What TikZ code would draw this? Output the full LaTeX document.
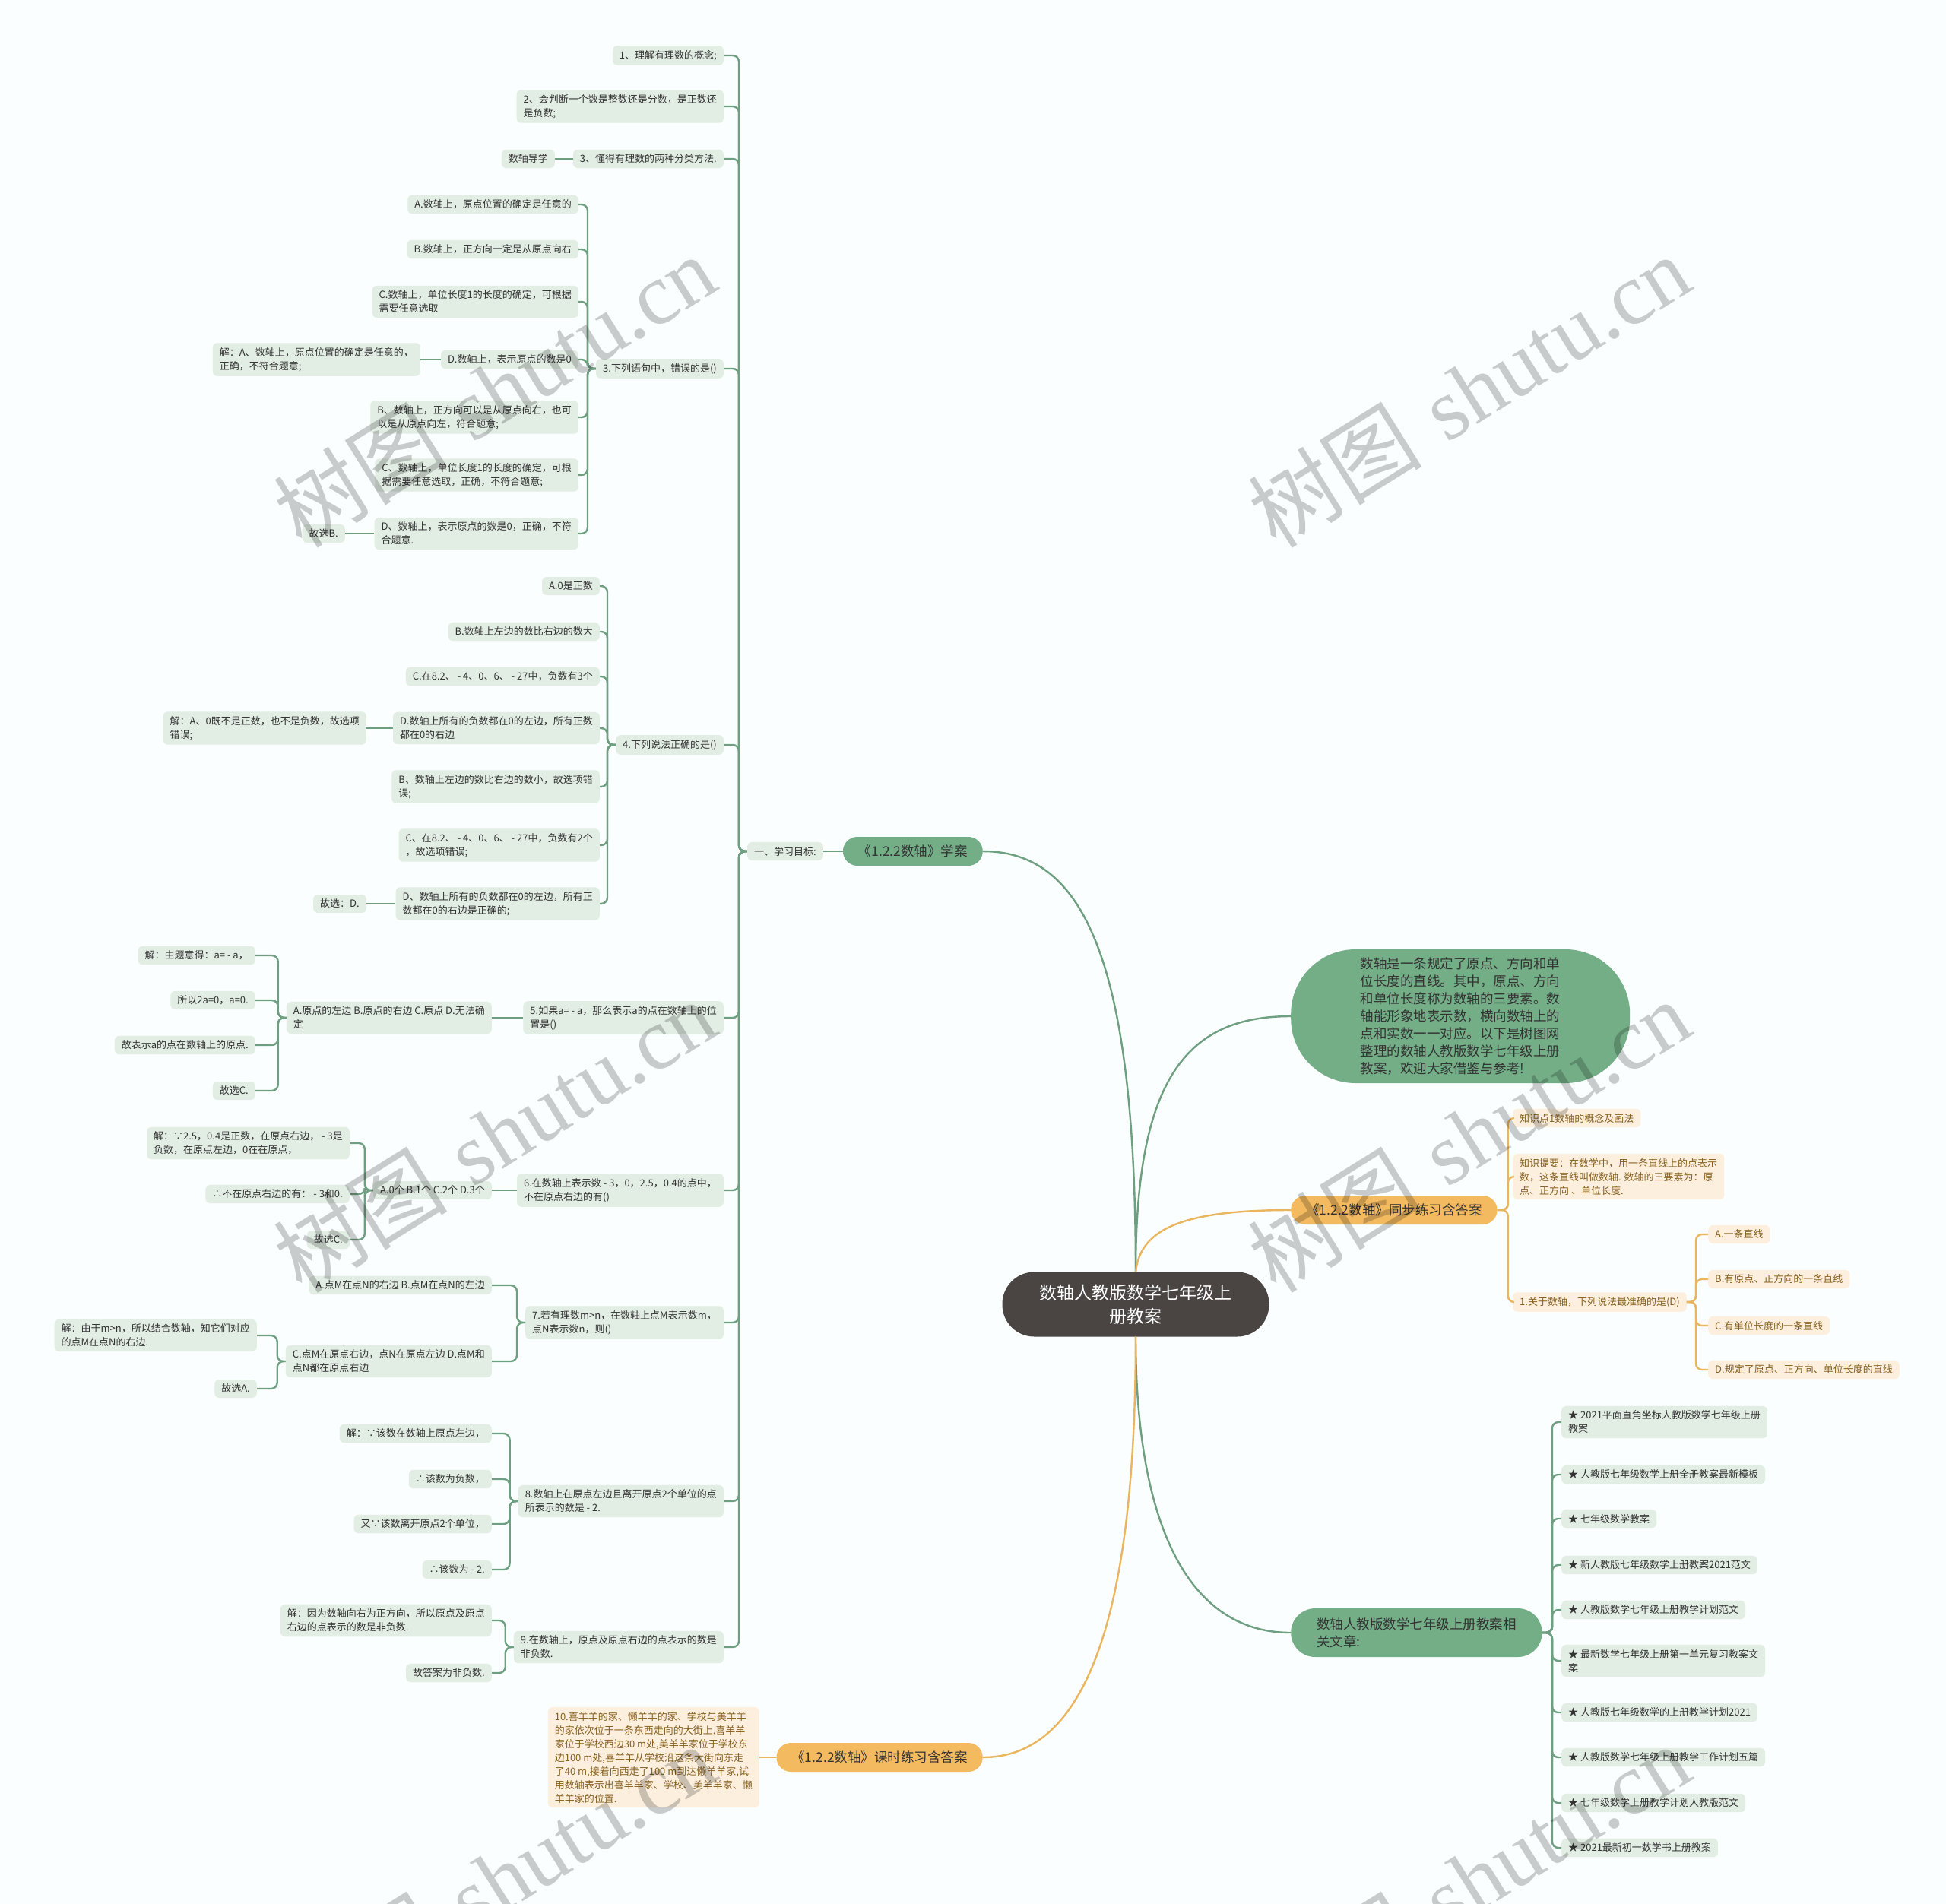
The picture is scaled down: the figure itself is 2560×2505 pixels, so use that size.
\documentclass[tikz,border=0pt]{standalone}
\usepackage{fontspec}
\setmainfont{Noto Sans CJK SC}
\newfontfamily\wmserif{Liberation Serif}
\usepackage{tikz}
\usetikzlibrary{positioning,backgrounds}
\definecolor{cBg}{HTML}{FAFEFE}
\definecolor{cText}{HTML}{333333}
\definecolor{cLine}{HTML}{6E9F80}
\definecolor{cPill}{HTML}{73AE87}
\definecolor{cLeaf}{HTML}{E2EDE4}
\definecolor{cRoot}{HTML}{4A4543}
\definecolor{cOr}{HTML}{F3BA60}
\definecolor{cOrLine}{HTML}{E9B55E}
\definecolor{cOrLeaf}{HTML}{FCEFDE}
\definecolor{cOrText}{HTML}{86601F}
\tikzset{
  leaf/.style={fill=cLeaf, rounded corners=6pt, inner xsep=9pt, inner ysep=6pt,
               align=left, text=cText, font=\fontsize{13}{18}\selectfont},
  oleaf/.style={leaf, fill=cOrLeaf, text=cOrText},
  pill/.style={fill=cPill, rounded corners=19pt, minimum height=38pt, inner xsep=20pt,
               inner ysep=8pt, text=cText, font=\fontsize{17.5}{23}\selectfont, align=left},
  opill/.style={pill, fill=cOr, text=black!80},
  rootblk/.style={fill=cRoot, rounded corners=42pt, minimum width=351pt, minimum height=85pt,
                  text=white, align=center, font=\fontsize{23}{31}\selectfont},
  link/.style={draw=cLine, line width=2.4pt, rounded corners=8pt},
  olink/.style={link, draw=cOrLine},
  wmark/.style={text=black, opacity=0.2, rotate=32, font=\fontsize{115}{115}\selectfont}
}

\begin{document}
\begin{tikzpicture}[x=1pt, y=-1pt]
\useasboundingbox (0,0) rectangle (2560,2505);
\clip (0,0) rectangle (2560,2505);
\fill[cBg] (0,0) rectangle (2560,2505);
% centre
\node[rootblk] (root) at (1494,1716) {数轴人教版数学七年级上\\册教案};
% left: study plan
\node[pill, anchor=east] (plan) at (1293,1120) {《1.2.2数轴》学案};
\node[leaf, anchor=east] (goal) at (1083,1120) {一、学习目标:};
\node[leaf, anchor=east] (t1) at (952,73) {1、理解有理数的概念;};
\node[leaf, anchor=east] (t2) at (952,140) {2、会判断一个数是整数还是分数，是正数还\\是负数;};
\node[leaf, anchor=east] (t3) at (952,209) {3、懂得有理数的两种分类方法.};
\node[leaf, anchor=east] (guide) at (730,209) {数轴导学};
% question 3
\node[leaf, anchor=east] (q3) at (952,485) {3.下列语句中，错误的是()};
\node[leaf, anchor=east] (q3a) at (761,269) {A.数轴上，原点位置的确定是任意的};
\node[leaf, anchor=east] (q3b) at (761,328) {B.数轴上，正方向一定是从原点向右};
\node[leaf, anchor=east] (q3c) at (761,397) {C.数轴上，单位长度1的长度的确定，可根据\\需要任意选取};
\node[leaf, anchor=east] (q3d) at (761,473) {D.数轴上，表示原点的数是0};
\node[leaf, anchor=east] (q3dx) at (553,473) {解：A、数轴上，原点位置的确定是任意的，\\正确，不符合题意;};
\node[leaf, anchor=east] (q3e) at (761,549) {B、数轴上，正方向可以是从原点向右，也可\\以是从原点向左，符合题意;};
\node[leaf, anchor=east] (q3f) at (761,625) {C、数轴上，单位长度1的长度的确定，可根\\据需要任意选取，正确，不符合题意;};
\node[leaf, anchor=east] (q3g) at (761,702) {D、数轴上，表示原点的数是0，正确，不符\\合题意.};
\node[leaf, anchor=east] (q3gx) at (454,702) {故选B.};
% question 4
\node[leaf, anchor=east] (q4) at (952,980) {4.下列说法正确的是()};
\node[leaf, anchor=east] (q4a) at (789,771) {A.0是正数};
\node[leaf, anchor=east] (q4b) at (789,831) {B.数轴上左边的数比右边的数大};
\node[leaf, anchor=east] (q4c) at (789,890) {C.在8.2、 - 4、0、6、 - 27中，负数有3个};
\node[leaf, anchor=east] (q4d) at (789,958) {D.数轴上所有的负数都在0的左边，所有正数\\都在0的右边};
\node[leaf, anchor=east] (q4dx) at (482,958) {解：A、0既不是正数，也不是负数，故选项\\错误;};
\node[leaf, anchor=east] (q4e) at (789,1035) {B、数轴上左边的数比右边的数小，故选项错\\误;};
\node[leaf, anchor=east] (q4f) at (789,1112) {C、在8.2、 - 4、0、6、 - 27中，负数有2个\\，故选项错误;};
\node[leaf, anchor=east] (q4g) at (789,1189) {D、数轴上所有的负数都在0的左边，所有正\\数都在0的右边是正确的;};
\node[leaf, anchor=east] (q4gx) at (482,1189) {故选：D.};
% question 5
\node[leaf, anchor=east] (q5) at (952,1339) {5.如果a= - a，那么表示a的点在数轴上的位\\置是()};
\node[leaf, anchor=east] (q5o) at (647,1339) {A.原点的左边 B.原点的右边 C.原点 D.无法确\\定};
\node[leaf, anchor=east] (q5a) at (336,1257) {解：由题意得：a= - a，};
\node[leaf, anchor=east] (q5b) at (336,1316) {所以2a=0，a=0.};
\node[leaf, anchor=east] (q5c) at (336,1375) {故表示a的点在数轴上的原点.};
\node[leaf, anchor=east] (q5d) at (336,1435) {故选C.};
% question 6
\node[leaf, anchor=east] (q6) at (952,1566) {6.在数轴上表示数 - 3，0，2.5，0.4的点中，\\不在原点右边的有()};
\node[leaf, anchor=east] (q6o) at (647,1566) {A.0个 B.1个 C.2个 D.3个};
\node[leaf, anchor=east] (q6a) at (460,1504) {解：∵2.5，0.4是正数，在原点右边， - 3是\\负数，在原点左边，0在在原点，};
\node[leaf, anchor=east] (q6b) at (460,1571) {∴不在原点右边的有： - 3和0.};
\node[leaf, anchor=east] (q6c) at (460,1631) {故选C.};
% question 7
\node[leaf, anchor=east] (q7) at (952,1740) {7.若有理数m>n，在数轴上点M表示数m，\\点N表示数n，则()};
\node[leaf, anchor=east] (q7a) at (647,1691) {A.点M在点N的右边 B.点M在点N的左边};
\node[leaf, anchor=east] (q7b) at (647,1791) {C.点M在原点右边，点N在原点左边 D.点M和\\点N都在原点右边};
\node[leaf, anchor=east] (q7x) at (338,1757) {解：由于m>n，所以结合数轴，知它们对应\\的点M在点N的右边.};
\node[leaf, anchor=east] (q7y) at (338,1827) {故选A.};
% question 8
\node[leaf, anchor=east] (q8) at (952,1975) {8.数轴上在原点左边且离开原点2个单位的点\\所表示的数是 - 2.};
\node[leaf, anchor=east] (q8a) at (647,1886) {解：∵该数在数轴上原点左边，};
\node[leaf, anchor=east] (q8b) at (647,1946) {∴该数为负数，};
\node[leaf, anchor=east] (q8c) at (647,2005) {又∵该数离开原点2个单位，};
\node[leaf, anchor=east] (q8d) at (647,2065) {∴该数为 - 2.};
% question 9
\node[leaf, anchor=east] (q9) at (952,2167) {9.在数轴上，原点及原点右边的点表示的数是\\非负数.};
\node[leaf, anchor=east] (q9a) at (647,2132) {解：因为数轴向右为正方向，所以原点及原点\\右边的点表示的数是非负数.};
\node[leaf, anchor=east] (q9b) at (647,2201) {故答案为非负数.};
% right: intro, practice, related
\node[pill, anchor=west, minimum width=446pt, minimum height=176pt, rounded corners=85pt] (desc) at (1698,1337) {数轴是一条规定了原点、方向和单\\位长度的直线。其中，原点、方向\\和单位长度称为数轴的三要素。数\\轴能形象地表示数，横向数轴上的\\点和实数一一对应。以下是树图网\\整理的数轴人教版数学七年级上册\\教案，欢迎大家借鉴与参考!};
\node[opill, anchor=west] (sync) at (1698,1592) {《1.2.2数轴》同步练习含答案};
\node[oleaf, anchor=west] (k1) at (1990,1471) {知识点1数轴的概念及画法};
\node[oleaf, anchor=west] (k2) at (1990,1548) {知识提要：在数学中，用一条直线上的点表示\\数，这条直线叫做数轴. 数轴的三要素为：原\\点、正方向 、单位长度.};
\node[oleaf, anchor=west] (k3) at (1990,1713) {1.关于数轴，下列说法最准确的是(D)};
\node[oleaf, anchor=west] (k3a) at (2247,1624) {A.一条直线};
\node[oleaf, anchor=west] (k3b) at (2247,1683) {B.有原点、正方向的一条直线};
\node[oleaf, anchor=west] (k3c) at (2247,1744) {C.有单位长度的一条直线};
\node[oleaf, anchor=west] (k3d) at (2247,1802) {D.规定了原点、正方向、单位长度的直线};
\node[pill, anchor=west, minimum height=64pt, rounded corners=32pt, inner xsep=34pt] (rel) at (1698,2148) {数轴人教版数学七年级上册教案相\\关文章:};
\node[leaf, anchor=west] (r1) at (2054,1871) {★ 2021平面直角坐标人教版数学七年级上册\\教案};
\node[leaf, anchor=west] (r2) at (2054,1940) {★ 人教版七年级数学上册全册教案最新模板};
\node[leaf, anchor=west] (r3) at (2054,1998) {★ 七年级数学教案};
\node[leaf, anchor=west] (r4) at (2054,2059) {★ 新人教版七年级数学上册教案2021范文};
\node[leaf, anchor=west] (r5) at (2054,2118) {★ 人教版数学七年级上册教学计划范文};
\node[leaf, anchor=west] (r6) at (2054,2185) {★ 最新数学七年级上册第一单元复习教案文\\案};
\node[leaf, anchor=west] (r7) at (2054,2253) {★ 人教版七年级数学的上册教学计划2021};
\node[leaf, anchor=west] (r8) at (2054,2312) {★ 人教版数学七年级上册教学工作计划五篇};
\node[leaf, anchor=west] (r9) at (2054,2372) {★ 七年级数学上册教学计划人教版范文};
\node[leaf, anchor=west] (r10) at (2054,2431) {★ 2021最新初一数学书上册教案};
% bottom: lesson practice
\node[opill, anchor=east] (lesson) at (1293,2312) {《1.2.2数轴》课时练习含答案};
\node[oleaf, anchor=east] (ten) at (999,2312) {10.喜羊羊的家、懒羊羊的家、学校与美羊羊\\的家依次位于一条东西走向的大街上,喜羊羊\\家位于学校西边30 m处,美羊羊家位于学校东\\边100 m处,喜羊羊从学校沿这条大街向东走\\了40 m,接着向西走了100 m到达懒羊羊家,试\\用数轴表示出喜羊羊家、学校、美羊羊家、懒\\羊羊家的位置.};
% main curves
\draw[link] (root.north) .. controls (1494,1250) and (1420,1120) .. (plan.east);
\draw[link] (root.north) .. controls (1494,1420) and (1560,1337) .. (desc.west);
\draw[olink] (root.north) .. controls (1500,1615) and (1560,1592) .. (sync.west);
\draw[link] (root.south) .. controls (1494,2000) and (1560,2148) .. (rel.west);
\draw[olink] (root.south) .. controls (1494,2150) and (1420,2312) .. (lesson.east);
% left tree
\draw[link] (plan.west) -- (goal.east);
\draw[link] (goal.west) -- ++(-11,0) |- (t1.east); \draw[link] (goal.west) -- ++(-11,0) |- (t2.east);
\draw[link] (goal.west) -- ++(-11,0) |- (t3.east); \draw[link] (goal.west) -- ++(-11,0) |- (q3.east);
\draw[link] (goal.west) -- ++(-11,0) |- (q4.east); \draw[link] (goal.west) -- ++(-11,0) |- (q5.east);
\draw[link] (goal.west) -- ++(-11,0) |- (q6.east); \draw[link] (goal.west) -- ++(-11,0) |- (q7.east);
\draw[link] (goal.west) -- ++(-11,0) |- (q8.east); \draw[link] (goal.west) -- ++(-11,0) |- (q9.east);
\draw[link] (t3.west) -- (guide.east);
\draw[link] (q3.west) -- ++(-11,0) |- (q3a.east); \draw[link] (q3.west) -- ++(-11,0) |- (q3b.east);
\draw[link] (q3.west) -- ++(-11,0) |- (q3c.east); \draw[link] (q3.west) -- ++(-11,0) |- (q3d.east);
\draw[link] (q3.west) -- ++(-11,0) |- (q3e.east); \draw[link] (q3.west) -- ++(-11,0) |- (q3f.east);
\draw[link] (q3.west) -- ++(-11,0) |- (q3g.east);
\draw[link] (q3d.west) -- (q3dx.east); \draw[link] (q3g.west) -- (q3gx.east);
\draw[link] (q4.west) -- ++(-11,0) |- (q4a.east); \draw[link] (q4.west) -- ++(-11,0) |- (q4b.east);
\draw[link] (q4.west) -- ++(-11,0) |- (q4c.east); \draw[link] (q4.west) -- ++(-11,0) |- (q4d.east);
\draw[link] (q4.west) -- ++(-11,0) |- (q4e.east); \draw[link] (q4.west) -- ++(-11,0) |- (q4f.east);
\draw[link] (q4.west) -- ++(-11,0) |- (q4g.east);
\draw[link] (q4d.west) -- (q4dx.east); \draw[link] (q4g.west) -- (q4gx.east);
\draw[link] (q5.west) -- (q5o.east);
\draw[link] (q5o.west) -- ++(-11,0) |- (q5a.east); \draw[link] (q5o.west) -- ++(-11,0) |- (q5b.east);
\draw[link] (q5o.west) -- ++(-11,0) |- (q5c.east); \draw[link] (q5o.west) -- ++(-11,0) |- (q5d.east);
\draw[link] (q6.west) -- (q6o.east);
\draw[link] (q6o.west) -- ++(-11,0) |- (q6a.east); \draw[link] (q6o.west) -- ++(-11,0) |- (q6b.east);
\draw[link] (q6o.west) -- ++(-11,0) |- (q6c.east);
\draw[link] (q7.west) -- ++(-11,0) |- (q7a.east); \draw[link] (q7.west) -- ++(-11,0) |- (q7b.east);
\draw[link] (q7b.west) -- ++(-11,0) |- (q7x.east); \draw[link] (q7b.west) -- ++(-11,0) |- (q7y.east);
\draw[link] (q8.west) -- ++(-11,0) |- (q8a.east); \draw[link] (q8.west) -- ++(-11,0) |- (q8b.east);
\draw[link] (q8.west) -- ++(-11,0) |- (q8c.east); \draw[link] (q8.west) -- ++(-11,0) |- (q8d.east);
\draw[link] (q9.west) -- ++(-11,0) |- (q9a.east); \draw[link] (q9.west) -- ++(-11,0) |- (q9b.east);
% right trees
\draw[olink] (sync.east) -- ++(14,0) |- (k1.west); \draw[olink] (sync.east) -- ++(14,0) |- (k2.west);
\draw[olink] (sync.east) -- ++(14,0) |- (k3.west);
\draw[olink] (k3.east) -- ++(12,0) |- (k3a.west); \draw[olink] (k3.east) -- ++(12,0) |- (k3b.west);
\draw[olink] (k3.east) -- ++(12,0) |- (k3c.west); \draw[olink] (k3.east) -- ++(12,0) |- (k3d.west);
\draw[link] (rel.east) -- ++(13,0) |- (r1.west); \draw[link] (rel.east) -- ++(13,0) |- (r2.west);
\draw[link] (rel.east) -- ++(13,0) |- (r3.west); \draw[link] (rel.east) -- ++(13,0) |- (r4.west);
\draw[link] (rel.east) -- ++(13,0) |- (r5.west); \draw[link] (rel.east) -- ++(13,0) |- (r6.west);
\draw[link] (rel.east) -- ++(13,0) |- (r7.west); \draw[link] (rel.east) -- ++(13,0) |- (r8.west);
\draw[link] (rel.east) -- ++(13,0) |- (r9.west); \draw[link] (rel.east) -- ++(13,0) |- (r10.west);
\draw[olink] (lesson.west) -- (ten.east);
% watermarks
\node[wmark] (wm1) at (650,514) {树图\hspace{0.3em}{\wmserif shutu.cn}};
\node[wmark] (wm2) at (1932,514) {树图\hspace{0.3em}{\wmserif shutu.cn}};
\node[wmark] (wm3) at (650,1494) {树图\hspace{0.3em}{\wmserif shutu.cn}};
\node[wmark] (wm4) at (1932,1494) {树图\hspace{0.3em}{\wmserif shutu.cn}};
\node[wmark] (wm5) at (650,2474) {树图\hspace{0.3em}{\wmserif shutu.cn}};
\node[wmark] (wm6) at (1932,2474) {树图\hspace{0.3em}{\wmserif shutu.cn}};
\end{tikzpicture}
\end{document}
